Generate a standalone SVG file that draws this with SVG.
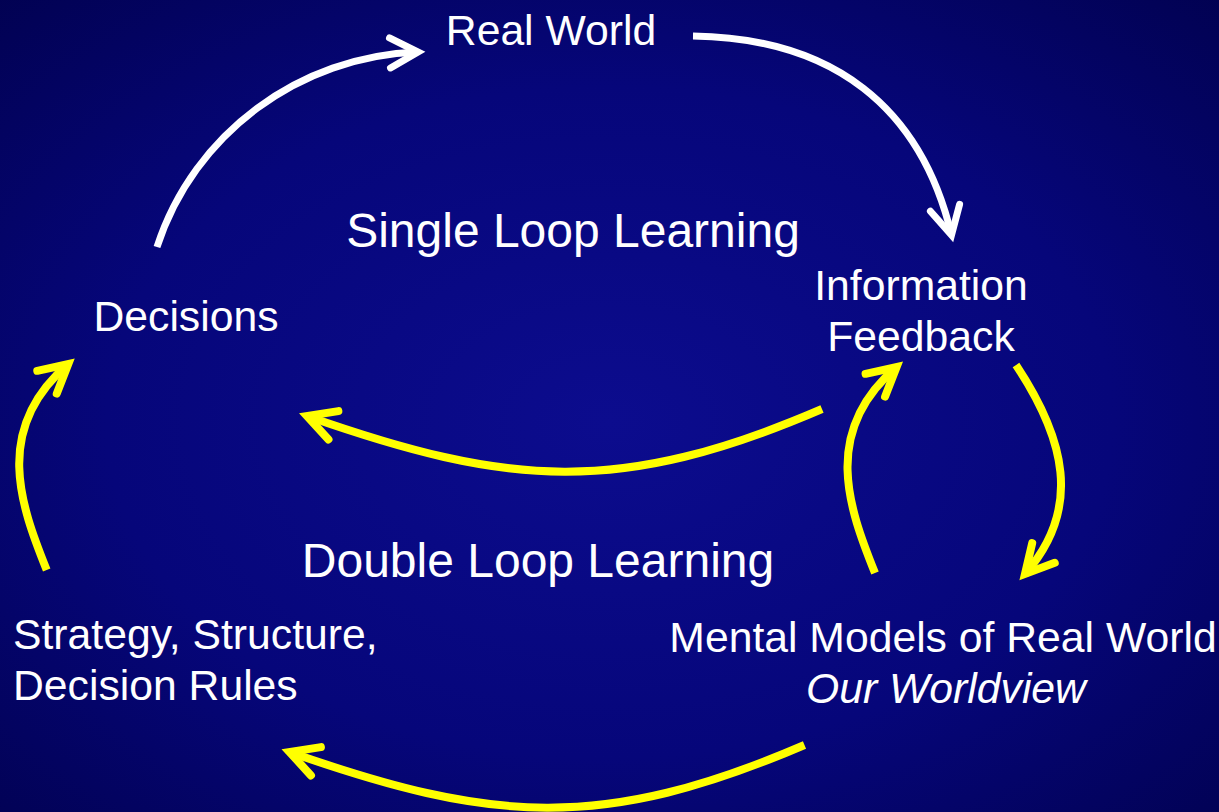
<svg xmlns="http://www.w3.org/2000/svg" width="1219" height="812" viewBox="0 0 1219 812">
  <defs>
    <radialGradient id="bg" cx="50%" cy="52%" r="75%" fx="50%" fy="52%">
      <stop offset="0" stop-color="#0c0c8e"/>
      <stop offset="0.55" stop-color="#06067a"/>
      <stop offset="1" stop-color="#01014f"/>
    </radialGradient>
    <marker id="ahW" markerUnits="userSpaceOnUse" orient="auto" overflow="visible" markerWidth="1" markerHeight="1" refX="0" refY="0">
      <path d="M-28,-15 L0,0 L-28,15" fill="none" stroke="#ffffff" stroke-width="7" stroke-linecap="round" stroke-linejoin="miter"/>
    </marker>
    <marker id="ahY" markerUnits="userSpaceOnUse" orient="auto" overflow="visible" markerWidth="1" markerHeight="1" refX="0" refY="0">
      <path d="M-28,-15 L0,0 L-28,15" fill="none" stroke="#ffff00" stroke-width="8" stroke-linecap="round" stroke-linejoin="miter"/>
    </marker>
  </defs>
  <style>
    .lbl { font-family: "Liberation Sans", Arial, sans-serif; fill: #ffffff; font-size: 42.7px; text-anchor: middle; }
    .big { font-size: 48px; }
    .left { text-anchor: start; }
    .it { font-style: italic; }
    .w { fill: none; stroke: #ffffff; stroke-width: 7; stroke-linecap: butt; marker-end: url(#ahW); }
    .y { fill: none; stroke: #ffff00; stroke-width: 8; stroke-linecap: butt; marker-end: url(#ahY); }
  </style>
  <rect x="0" y="0" width="1219" height="812" fill="url(#bg)"/>

  <g id="connectors">
    <path class="w" d="M157,247 C194,133 300,56 418,52"/>
    <path class="w" d="M693,36 C833,38 921,107 951.5,235"/>
    <path class="y" d="M822,409 C619.6,496 508.8,486.8 307,416"/>
    <path class="y" d="M1016,365 C1064.4,438 1083,508 1025,574"/>
    <path class="y" d="M875,573 C849,508 820.6,432 896.6,367"/>
    <path class="y" d="M46.7,570 C20.7,505 -7.7,429 68.3,364"/>
    <path class="y" d="M804.5,745 C602,832 491.3,822.8 289.5,752"/>
  </g>

  <g id="real-world"><text class="lbl" x="551" y="45">Real World</text></g>
  <g id="single-loop"><text class="lbl big" x="573" y="247">Single Loop Learning</text></g>
  <g id="decisions"><text class="lbl" x="186" y="331">Decisions</text></g>
  <g id="information-feedback">
    <text class="lbl" x="921" y="300">Information</text>
    <text class="lbl" x="921" y="351">Feedback</text>
  </g>
  <g id="double-loop"><text class="lbl big" x="538" y="577">Double Loop Learning</text></g>
  <g id="strategy">
    <text class="lbl left" x="13" y="649">Strategy, Structure,</text>
    <text class="lbl left" x="13" y="700">Decision Rules</text>
  </g>
  <g id="mental-models">
    <text class="lbl" x="943" y="652">Mental Models of Real World</text>
    <text class="lbl it" x="946" y="703">Our Worldview</text>
  </g>
</svg>
